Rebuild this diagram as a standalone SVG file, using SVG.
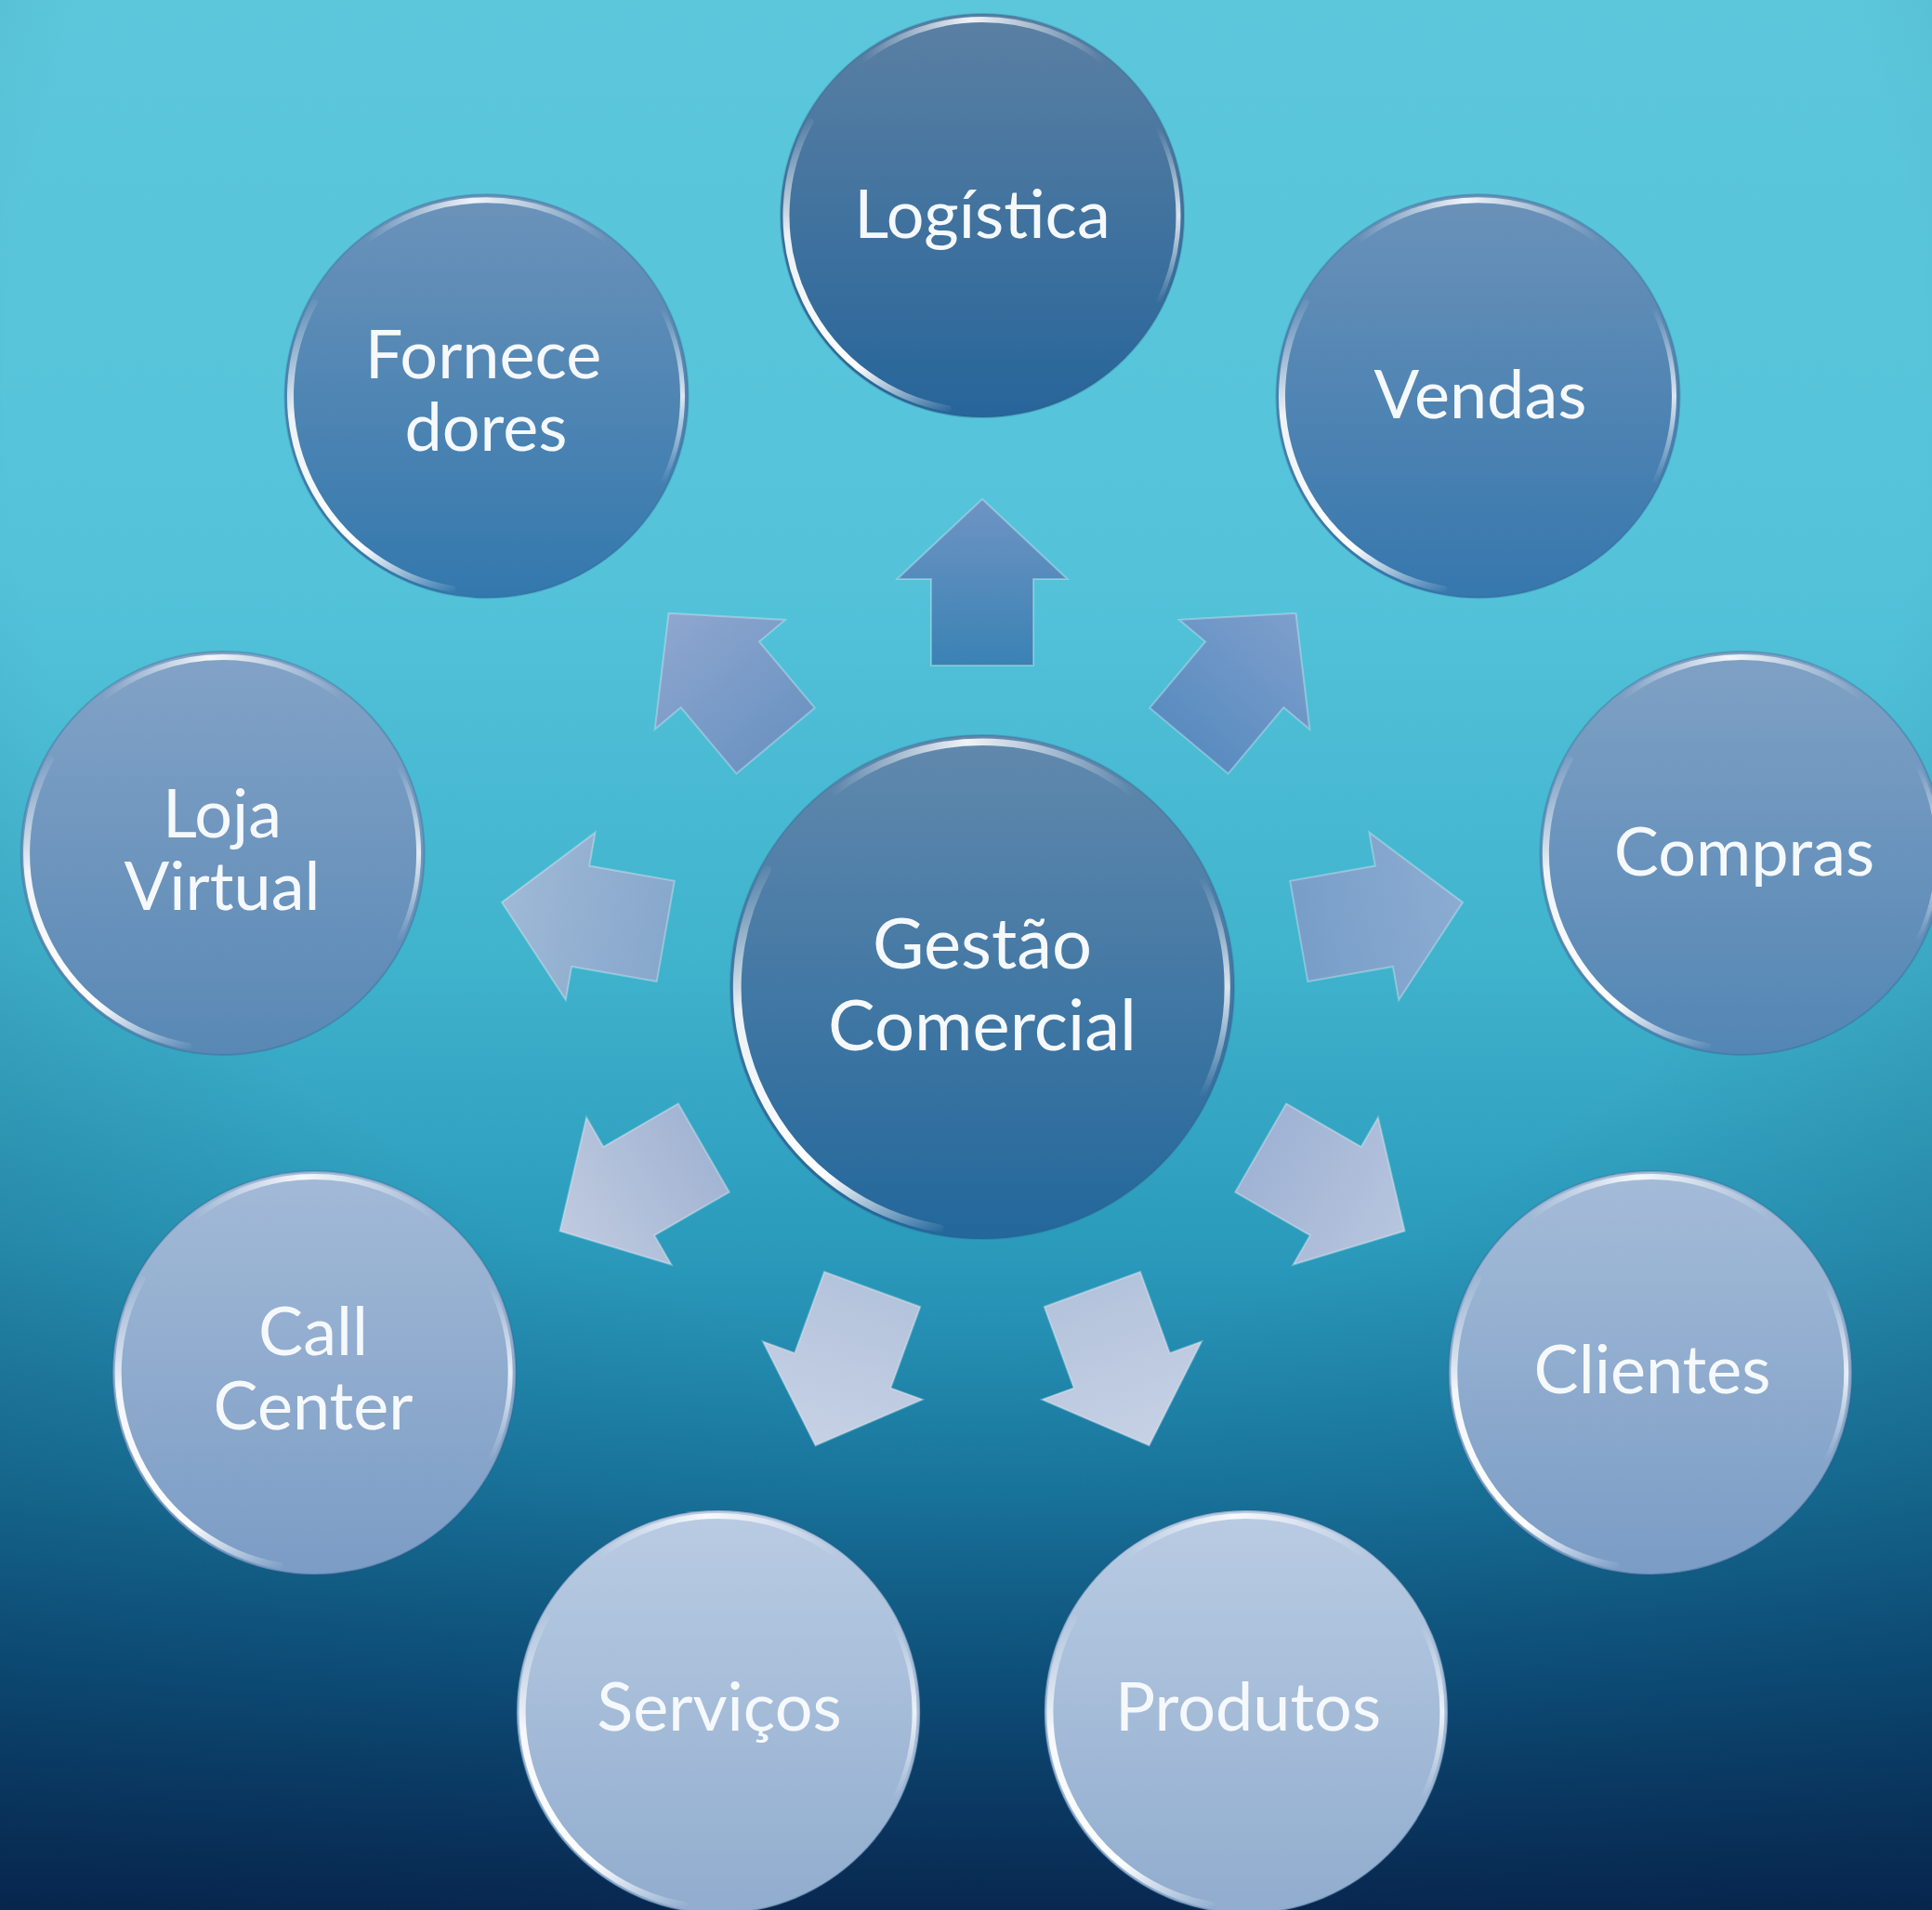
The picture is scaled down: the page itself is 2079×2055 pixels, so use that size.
<svg xmlns="http://www.w3.org/2000/svg" xmlns:xlink="http://www.w3.org/1999/xlink" width="2079" height="2055" viewBox="0 0 2079 2055">
<style>
.lbl{font-family:Lato,"Liberation Sans",Arial,sans-serif;font-size:72px;fill:#f6f9fc;text-anchor:middle}
.big{font-size:76px}
.node-edge{stroke:#2a5d88;stroke-opacity:0.3;stroke-width:2}
.arrow{stroke:#ffffff;stroke-opacity:0.3;stroke-width:2;stroke-linejoin:miter}
</style>
<defs>
<linearGradient id="bg" x1="0" y1="0" x2="0" y2="1">
<stop offset="0" stop-color="#5cc7db"/>
<stop offset="0.3" stop-color="#54c3da"/>
<stop offset="0.5" stop-color="#40b3cd"/>
<stop offset="0.65" stop-color="#2b9bbc"/>
<stop offset="0.78" stop-color="#1a7aa2"/>
<stop offset="0.88" stop-color="#0f5884"/>
<stop offset="1" stop-color="#0a2f5a"/>
</linearGradient>
<radialGradient id="vig" cx="0.5" cy="0.2" r="0.9">
<stop offset="0.55" stop-color="#000c2a" stop-opacity="0"/>
<stop offset="1" stop-color="#001030" stop-opacity="0.3"/>
</radialGradient>
<linearGradient id="gC" x1="0" y1="0" x2="0" y2="1"><stop offset="0" stop-color="#6289ad"/><stop offset="1" stop-color="#23679b"/></linearGradient>
<linearGradient id="g0" x1="0" y1="0" x2="0" y2="1"><stop offset="0" stop-color="#5b80a3"/><stop offset="1" stop-color="#27659a"/></linearGradient>
<linearGradient id="g1" x1="0" y1="0" x2="0" y2="1"><stop offset="0" stop-color="#6b92b9"/><stop offset="1" stop-color="#3677ad"/></linearGradient>
<linearGradient id="g2" x1="0" y1="0" x2="0" y2="1"><stop offset="0" stop-color="#80a1c5"/><stop offset="1" stop-color="#5386b4"/></linearGradient>
<linearGradient id="g3" x1="0" y1="0" x2="0" y2="1"><stop offset="0" stop-color="#a5bcd8"/><stop offset="1" stop-color="#7a9cc5"/></linearGradient>
<linearGradient id="g4" x1="0" y1="0" x2="0" y2="1"><stop offset="0" stop-color="#bacce3"/><stop offset="1" stop-color="#90acce"/></linearGradient>
<linearGradient id="g5" x1="0" y1="0" x2="0" y2="1"><stop offset="0" stop-color="#a3bad7"/><stop offset="1" stop-color="#7b9cc5"/></linearGradient>
<linearGradient id="g6" x1="0" y1="0" x2="0" y2="1"><stop offset="0" stop-color="#83a3c7"/><stop offset="1" stop-color="#5988b5"/></linearGradient>
<linearGradient id="g7" x1="0" y1="0" x2="0" y2="1"><stop offset="0" stop-color="#6c93ba"/><stop offset="1" stop-color="#3378ad"/></linearGradient>
<linearGradient id="a0" x1="0" y1="0" x2="0" y2="1"><stop offset="0" stop-color="#6e94c3"/><stop offset="1" stop-color="#3a82b4"/></linearGradient>
<linearGradient id="a1" x1="0" y1="0" x2="0" y2="1"><stop offset="0" stop-color="#7e9fcc"/><stop offset="1" stop-color="#5a8cc0"/></linearGradient>
<linearGradient id="a2" x1="0" y1="0" x2="0" y2="1"><stop offset="0" stop-color="#94abd2"/><stop offset="1" stop-color="#7e9cc8"/></linearGradient>
<linearGradient id="a3" x1="0" y1="0" x2="0" y2="1"><stop offset="0" stop-color="#b7c5de"/><stop offset="1" stop-color="#a0b3d4"/></linearGradient>
<linearGradient id="a4" x1="0" y1="0" x2="0" y2="1"><stop offset="0" stop-color="#c6d1e4"/><stop offset="1" stop-color="#b4c3dc"/></linearGradient>
<linearGradient id="a5" x1="0" y1="0" x2="0" y2="1"><stop offset="0" stop-color="#bfcadf"/><stop offset="1" stop-color="#a3b5d4"/></linearGradient>
<linearGradient id="a6" x1="0" y1="0" x2="0" y2="1"><stop offset="0" stop-color="#a9b9d7"/><stop offset="1" stop-color="#8fa6cc"/></linearGradient>
<linearGradient id="a7" x1="0" y1="0" x2="0" y2="1"><stop offset="0" stop-color="#8ea7cf"/><stop offset="1" stop-color="#6e94c3"/></linearGradient>
<linearGradient id="rimLL" gradientUnits="userSpaceOnUse" x1="-185" y1="-110" x2="-30" y2="210">
<stop offset="0" stop-color="#ffffff" stop-opacity="0"/>
<stop offset="0.3" stop-color="#ffffff" stop-opacity="0.9"/>
<stop offset="0.75" stop-color="#ffffff" stop-opacity="1"/>
<stop offset="1" stop-color="#ffffff" stop-opacity="0"/>
</linearGradient>
<linearGradient id="rimT" gradientUnits="userSpaceOnUse" x1="-130" y1="0" x2="130" y2="0">
<stop offset="0" stop-color="#ffffff" stop-opacity="0"/>
<stop offset="0.45" stop-color="#ffffff" stop-opacity="0.9"/>
<stop offset="1" stop-color="#ffffff" stop-opacity="0"/>
</linearGradient>
<linearGradient id="rimR" gradientUnits="userSpaceOnUse" x1="0" y1="-95" x2="0" y2="95">
<stop offset="0" stop-color="#ffffff" stop-opacity="0"/>
<stop offset="0.5" stop-color="#ffffff" stop-opacity="0.8"/>
<stop offset="1" stop-color="#ffffff" stop-opacity="0"/>
</linearGradient>
<g id="rim" fill="none" stroke-linecap="round">
<path d="M -185.2 -101.1 A 211 211 0 0 0 -36.6 207.8" stroke="url(#rimLL)" stroke-width="7"/>
<path d="M -130 -166.2 A 211 211 0 0 1 130 -166.2" stroke="url(#rimT)" stroke-width="6"/>
<path d="M 189.1 -93.6 A 211 211 0 0 1 189.1 93.6" stroke="url(#rimR)" stroke-width="5"/>
</g>
<path id="arr" d="M0,-525 L91.5,-439 L55,-439 L55,-346 L-55,-346 L-55,-439 L-91.5,-439 Z"/>
</defs>

<rect width="2079" height="2055" fill="url(#bg)"/>
<rect width="2079" height="2055" fill="url(#vig)"/>

<g id="connectors">
<use xlink:href="#arr" href="#arr" class="arrow" fill="url(#a0)" transform="translate(1057,1062) rotate(0)"/>
<use xlink:href="#arr" href="#arr" class="arrow" fill="url(#a1)" transform="translate(1057,1062) rotate(40)"/>
<use xlink:href="#arr" href="#arr" class="arrow" fill="url(#a2)" fill-opacity="0.9" transform="translate(1057,1062) rotate(80)"/>
<use xlink:href="#arr" href="#arr" class="arrow" fill="url(#a3)" transform="translate(1057,1062) rotate(120)"/>
<use xlink:href="#arr" href="#arr" class="arrow" fill="url(#a4)" transform="translate(1057,1062) rotate(160)"/>
<use xlink:href="#arr" href="#arr" class="arrow" fill="url(#a4)" transform="translate(1057,1062) rotate(200)"/>
<use xlink:href="#arr" href="#arr" class="arrow" fill="url(#a5)" transform="translate(1057,1062) rotate(240)"/>
<use xlink:href="#arr" href="#arr" class="arrow" fill="url(#a6)" fill-opacity="0.9" transform="translate(1057,1062) rotate(280)"/>
<use xlink:href="#arr" href="#arr" class="arrow" fill="url(#a7)" transform="translate(1057,1062) rotate(320)"/>
</g>

<g id="node-gestao">
<circle cx="1057" cy="1062" r="271" fill="url(#gC)" class="node-edge"/>
<use xlink:href="#rim" href="#rim" transform="translate(1057,1062) scale(1.25)"/>
<text class="lbl big" x="1057" y="1042">Gestão</text>
<text class="lbl big" x="1057" y="1130">Comercial</text>
</g>

<g id="node-logistica">
<circle cx="1057" cy="232" r="217" fill="url(#g0)" class="node-edge"/>
<use xlink:href="#rim" href="#rim" transform="translate(1057,232)"/>
<text class="lbl" x="1057" y="256">Logística</text>
</g>

<g id="node-vendas">
<circle cx="1590.5" cy="426.2" r="217" fill="url(#g1)" class="node-edge"/>
<use xlink:href="#rim" href="#rim" transform="translate(1590.5,426.2)"/>
<text class="lbl" x="1593" y="450">Vendas</text>
</g>

<g id="node-compras">
<circle cx="1874.4" cy="917.9" r="217" fill="url(#g2)" class="node-edge"/>
<use xlink:href="#rim" href="#rim" transform="translate(1874.4,917.9)"/>
<text class="lbl" x="1877" y="942">Compras</text>
</g>

<g id="node-clientes">
<circle cx="1775.8" cy="1477" r="217" fill="url(#g3)" class="node-edge"/>
<use xlink:href="#rim" href="#rim" transform="translate(1775.8,1477)"/>
<text class="lbl" x="1778" y="1499">Clientes</text>
</g>

<g id="node-produtos">
<circle cx="1340.9" cy="1841.9" r="217" fill="url(#g4)" class="node-edge"/>
<use xlink:href="#rim" href="#rim" transform="translate(1340.9,1841.9)"/>
<text class="lbl" x="1343" y="1862">Produtos</text>
</g>

<g id="node-servicos">
<circle cx="773.1" cy="1841.9" r="217" fill="url(#g4)" class="node-edge"/>
<use xlink:href="#rim" href="#rim" transform="translate(773.1,1841.9)"/>
<text class="lbl" x="774" y="1862">Serviços</text>
</g>

<g id="node-callcenter">
<circle cx="338.2" cy="1477" r="217" fill="url(#g5)" class="node-edge"/>
<use xlink:href="#rim" href="#rim" transform="translate(338.2,1477)"/>
<text class="lbl" x="337" y="1458">Call</text>
<text class="lbl" x="337" y="1538">Center</text>
</g>

<g id="node-lojavirtual">
<circle cx="239.6" cy="917.9" r="217" fill="url(#g6)" class="node-edge"/>
<use xlink:href="#rim" href="#rim" transform="translate(239.6,917.9)"/>
<text class="lbl" x="239" y="901">Loja</text>
<text class="lbl" x="239" y="979">Virtual</text>
</g>

<g id="node-fornecedores">
<circle cx="523.5" cy="426.2" r="217" fill="url(#g7)" class="node-edge"/>
<use xlink:href="#rim" href="#rim" transform="translate(523.5,426.2)"/>
<text class="lbl" x="520" y="407">Fornece</text>
<text class="lbl" x="523" y="485">dores</text>
</g>
</svg>
